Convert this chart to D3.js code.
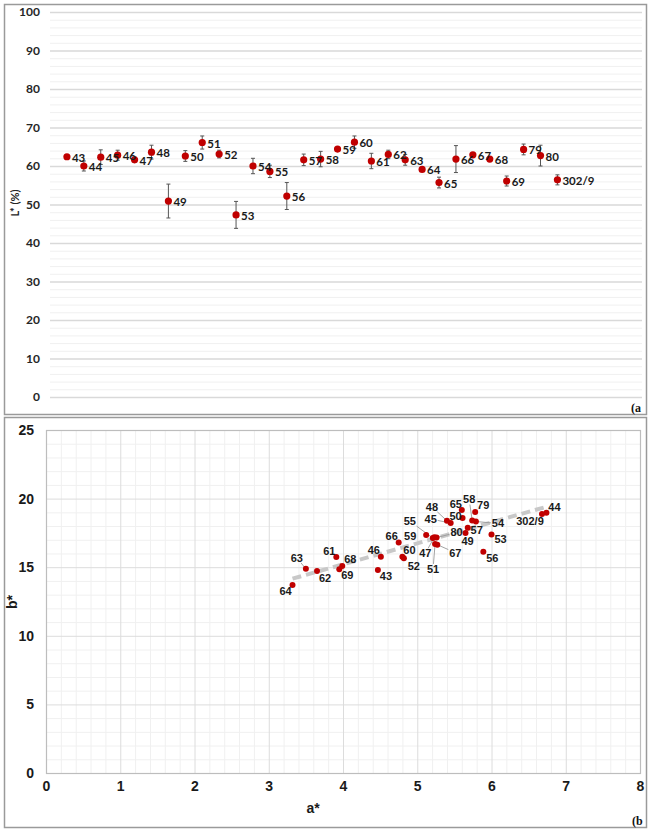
<!DOCTYPE html>
<html lang="en">
<head>
<meta charset="UTF-8">
<title>L*, a*, b*</title>
<script src="https://d3js.org/d3.v7.min.js"></script>
<style>
    body { margin: 0; background: #fff; }
    svg { display: block; }
    .tick-a { font-family: Lato, "Open Sans", sans-serif; font-weight: 700; font-size: 12px; fill: #262626; }
    .lab-a { font-family: Lato, "Open Sans", sans-serif; font-weight: 700; font-size: 11.5px; fill: #1a1a1a; }
    .tick-b { font-family: "Liberation Sans Narrow", "Liberation Sans", Arial, sans-serif; font-weight: 700; font-size: 14px; fill: #1a1a1a; }
    .lab-b { font-family: "Liberation Sans Narrow", "Liberation Sans", Arial, sans-serif; font-weight: 700; font-size: 11px; fill: #1a1a1a; }
    .panel-tag { font-family: "Liberation Serif", "Times New Roman", serif; font-weight: 700; font-size: 12px; fill: #111; }
</style>
</head>
<body>
<div id="chart"></div>
<script>
// sample numbers, in the order of the top chart
const samples = ["43", "44", "45", "46", "47", "48", "49", "50", "51", "52",
    "53", "54", "55", "56", "57", "58", "59", "60", "61", "62",
    "63", "64", "65", "66", "67", "68", "69", "79", "80", "302/9"];

// (a) lightness L* (%) and its standard deviation
const lightness = [62.4, 60.0, 62.3, 62.8, 61.6, 63.6, 50.9, 62.6, 66.1, 63.1,
    47.3, 60.0, 58.6, 52.2, 61.6, 61.8, 64.4, 66.2, 61.3, 63.0,
    61.6, 59.1, 55.7, 61.8, 62.9, 61.8, 56.1, 64.3, 62.7, 56.4];
const lightnessSd = [0.3, 1.3, 1.9, 1.3, 0.7, 1.8, 4.4, 1.4, 1.7, 1.0,
    3.5, 2.0, 1.6, 3.5, 1.5, 2.0, 0.3, 1.6, 2.0, 1.1,
    1.4, 0.3, 1.4, 3.5, 0.4, 0.3, 1.3, 1.4, 2.7, 1.3];

// (b) chromaticity coordinates
const aStar = [4.47, 6.74, 5.45, 4.51, 5.23, 5.40, 5.65, 5.61, 5.24, 4.82,
    6.00, 5.79, 5.21, 5.89, 5.68, 5.74, 5.12, 4.80, 3.91, 3.65,
    3.50, 3.32, 5.60, 4.75, 5.27, 3.99, 3.95, 5.78, 5.26, 6.68];
const bStar = [14.80, 18.97, 18.22, 15.77, 17.18, 18.38, 17.50, 18.59, 16.70, 15.65,
    17.38, 18.33, 17.12, 16.12, 17.88, 18.40, 17.35, 15.77, 15.74, 14.72,
    14.88, 13.70, 19.17, 16.80, 16.64, 15.09, 14.85, 19.02, 17.16, 18.88];

const lTicks = [0, 10, 20, 30, 40, 50, 60, 70, 80, 90, 100];
const aTicks = [0, 1, 2, 3, 4, 5, 6, 7, 8];
const bTicks = [0, 5, 10, 15, 20, 25];

// label placement in (b): offset of label centre from the point, leader line or not
const labelPlace = {
    "43": [8, 6], "44": [8, -6], "45": [-20, -4, true], "46": [-7, -6], "47": [-9, 16, true],
    "48": [-15, -14, true], "49": [2, 8], "50": [-7, -2], "51": [-2, 25, true], "52": [10, 8],
    "53": [9, 5], "54": [22, 2, true], "55": [-23, -17, true], "56": [9, 6], "57": [9, 2],
    "58": [-3, -21, true], "59": [-16, 1], "60": [7, -6], "61": [-7, -6], "62": [8, 7],
    "63": [-9, -11, true], "64": [-7, 6], "65": [-6, -6], "66": [-7, -6], "67": [18, 8, true],
    "68": [8, -7], "69": [8, 6], "79": [8, -7], "80": [20, -5, true], "302/9": [-12, 7]
};

const W = 651, H = 831;
const svg = d3.select("#chart").append("svg").attr("width", W).attr("height", H);

const red = "#c00000";

// panel frames
[[4, 4, 642, 410], [4, 417, 642, 410]].forEach(([x, y, w, h]) => {
    svg.append("rect").attr("x", x + 0.5).attr("y", y + 0.5).attr("width", w).attr("height", h)
        .attr("fill", "none").attr("stroke", "#9a9a9a").attr("stroke-width", 1.5);
});

// ---------- (a) ----------
const xa = d3.scaleLinear().domain([0, samples.length + 5]).range([50, 642]);
const ya = d3.scaleLinear().domain([0, 100]).range([397, 12]);

const gA = svg.append("g");
gA.append("g").selectAll("line").data(d3.range(0, 101, 2).filter(v => v % 10 !== 0)).join("line")
    .attr("x1", 50).attr("x2", 642).attr("y1", d => ya(d) + 0.5).attr("y2", d => ya(d) + 0.5)
    .attr("stroke", "#f0f0f0").attr("stroke-width", 1);
gA.append("g").selectAll("line").data(lTicks).join("line")
    .attr("x1", 50).attr("x2", 642).attr("y1", d => ya(d) + 0.5).attr("y2", d => ya(d) + 0.5)
    .attr("stroke", "#d9d9d9").attr("stroke-width", 1.3);

const yAxisA = d3.axisLeft(ya).tickValues(lTicks).tickSize(0).tickPadding(10);
gA.append("g").attr("transform", "translate(50,0)").call(yAxisA)
    .call(g => g.select(".domain").remove())
    .selectAll("text").attr("class", "tick-a").attr("font-family", null).attr("font-size", null);

gA.append("text").attr("class", "tick-a").style("font-size", "11px")
    .attr("transform", "translate(19,203) rotate(-90)").attr("text-anchor", "middle").text("L* (%)");

const rows = samples.map((s, i) => ({ s, i, L: lightness[i], sd: lightnessSd[i], a: aStar[i], b: bStar[i] }));

const err = gA.append("g").attr("stroke", "#555").attr("stroke-width", 1);
rows.forEach(d => {
    const x = xa(d.i + 1), y1 = ya(d.L - d.sd), y2 = ya(d.L + d.sd);
    err.append("line").attr("x1", x).attr("x2", x).attr("y1", y1).attr("y2", y2);
    err.append("line").attr("x1", x - 2).attr("x2", x + 2).attr("y1", y1).attr("y2", y1);
    err.append("line").attr("x1", x - 2).attr("x2", x + 2).attr("y1", y2).attr("y2", y2);
});
gA.append("g").selectAll("circle").data(rows).join("circle")
    .attr("cx", d => xa(d.i + 1)).attr("cy", d => ya(d.L)).attr("r", 3.6).attr("fill", red);
gA.append("g").selectAll("text").data(rows).join("text").attr("class", "lab-a")
    .attr("x", d => xa(d.i + 1) + 5).attr("y", d => ya(d.L) + 1).attr("dy", "0.35em").text(d => d.s);

gA.append("text").attr("class", "panel-tag").attr("x", 631).attr("y", 412).text("(a");

// ---------- (b) ----------
const xb = d3.scaleLinear().domain([0, 8]).range([46, 640]);
const yb = d3.scaleLinear().domain([0, 25]).range([773, 430]);
const gB = svg.append("g");

gB.append("g").selectAll("line").data(d3.range(0, 8.01, 0.2).filter(v => Math.abs(v - Math.round(v)) > 0.01)).join("line")
    .attr("x1", d => xb(d) + 0.5).attr("x2", d => xb(d) + 0.5).attr("y1", 430).attr("y2", 773)
    .attr("stroke", "#f0f0f0");
gB.append("g").selectAll("line").data(d3.range(1, 25).filter(v => v % 5 !== 0)).join("line")
    .attr("x1", 46).attr("x2", 640).attr("y1", d => yb(d) + 0.5).attr("y2", d => yb(d) + 0.5)
    .attr("stroke", "#f0f0f0");
gB.append("g").selectAll("line").data(aTicks).join("line")
    .attr("x1", d => xb(d) + 0.5).attr("x2", d => xb(d) + 0.5).attr("y1", 430).attr("y2", 773)
    .attr("stroke", "#dcdcdc");
gB.append("g").selectAll("line").data(bTicks).join("line")
    .attr("x1", 46).attr("x2", 640).attr("y1", d => yb(d) + 0.5).attr("y2", d => yb(d) + 0.5)
    .attr("stroke", "#dcdcdc");
gB.append("rect").attr("x", 46.5).attr("y", 430.5).attr("width", 594).attr("height", 343)
    .attr("fill", "none").attr("stroke", "#bdbdbd").attr("stroke-width", 1.2);

gB.append("g").attr("transform", "translate(0,773)")
    .call(d3.axisBottom(xb).tickValues(aTicks).tickSize(0).tickPadding(8))
    .call(g => g.select(".domain").remove())
    .selectAll("text").attr("class", "tick-b").attr("font-family", null).attr("font-size", null);
gB.append("g").attr("transform", "translate(46,0)")
    .call(d3.axisLeft(yb).tickValues(bTicks).tickSize(0).tickPadding(12))
    .call(g => g.select(".domain").remove())
    .selectAll("text").attr("class", "tick-b").attr("font-family", null).attr("font-size", null);

gB.append("text").attr("class", "tick-b").attr("x", 313).attr("y", 813).attr("text-anchor", "middle").text("a*");
gB.append("text").attr("class", "tick-b").attr("transform", "translate(17,602) rotate(-90)")
    .attr("text-anchor", "middle").text("b*");

// linear trend of b* on a*
const ma = d3.mean(aStar), mb = d3.mean(bStar);
const slope = d3.sum(aStar, (a, i) => (a - ma) * (bStar[i] - mb)) / d3.sum(aStar, a => (a - ma) ** 2);
const x0 = d3.min(aStar), x1 = d3.max(aStar);
gB.append("line")
    .attr("x1", xb(x0)).attr("y1", yb(mb + slope * (x0 - ma)))
    .attr("x2", xb(x1)).attr("y2", yb(mb + slope * (x1 - ma)))
    .attr("stroke", "#c8c8c8").attr("stroke-width", 4).attr("stroke-dasharray", "9,5");

// leader lines
rows.forEach(d => {
    const p = labelPlace[d.s];
    if (!p[2]) return;
    const px = xb(d.a), py = yb(d.b);
    const cx = px + p[0], cy = py + p[1];
    const vx = px - cx, vy = py - cy;
    const t = Math.min(Math.abs(vx) > 0 ? 7 / Math.abs(vx) : 9, Math.abs(vy) > 0 ? 5 / Math.abs(vy) : 9);
    gB.append("line").attr("x1", cx + vx * t).attr("y1", cy + vy * t).attr("x2", px).attr("y2", py)
        .attr("stroke", "#999").attr("stroke-width", 0.9);
});

gB.append("g").selectAll("circle").data(rows).join("circle")
    .attr("cx", d => xb(d.a)).attr("cy", d => yb(d.b)).attr("r", 3).attr("fill", red);
gB.append("g").selectAll("text").data(rows).join("text").attr("class", "lab-b")
    .attr("x", d => xb(d.a) + labelPlace[d.s][0]).attr("y", d => yb(d.b) + labelPlace[d.s][1])
    .attr("text-anchor", "middle").attr("dy", "0.35em").text(d => d.s);

gB.append("text").attr("class", "panel-tag").attr("x", 632).attr("y", 825).text("(b");
</script>
</body>
</html>
